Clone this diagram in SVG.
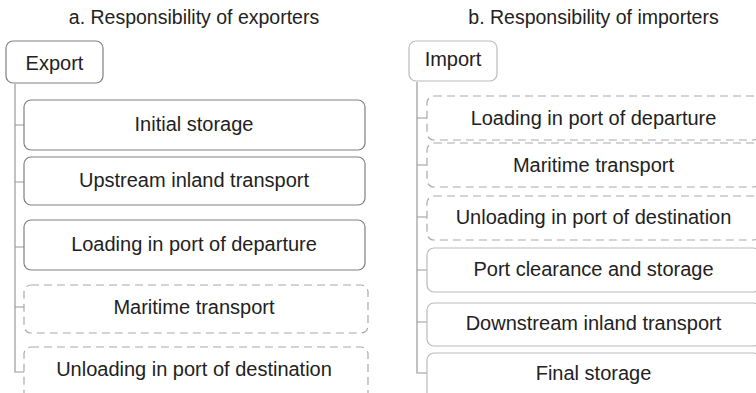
<svg xmlns="http://www.w3.org/2000/svg" width="756" height="393" viewBox="0 0 756 393">
<style>
text{font-family:"Liberation Sans",Arial,sans-serif;fill:#222;text-anchor:middle}
.t{font-size:19.5px}
.n{font-size:20px}
.solid{fill:#fff;stroke:#808080;stroke-width:1.2}
.light{fill:#fff;stroke:#bbb;stroke-width:1.2}
.dash{fill:#fff;stroke:#aaa;stroke-width:1.2;stroke-dasharray:8 5}
.c{fill:none;stroke:#999;stroke-width:1.2}
</style>
<rect width="756" height="393" fill="#fff"/>
<text class="t" x="194" y="24">a. Responsibility of exporters</text>
<text class="t" x="593.5" y="24">b. Responsibility of importers</text>
<g id="connectors">
<path class="c" d="M15 84V372H24M15 125H24M15 182H24M15 247H24M15 307H24"/>
<path class="c" d="M417 82V373H427M417 118H427M417 165H427M417 217H427M417 270H427M417 322H427"/>
</g>
<g id="export"><rect class="solid" x="6" y="41" width="97" height="42" rx="7"/><text class="n" x="54.5" y="70">Export</text></g>
<g id="e1"><rect class="solid" x="24" y="100" width="341" height="50" rx="7"/><text class="n" x="194" y="131">Initial storage</text></g>
<g id="e2"><rect class="solid" x="24" y="157" width="341" height="48" rx="7"/><text class="n" x="194" y="187">Upstream inland transport</text></g>
<g id="e3"><rect class="solid" x="24" y="220" width="341" height="50" rx="7"/><text class="n" x="194" y="251">Loading in port of departure</text></g>
<g id="e4"><rect class="dash" x="24" y="285" width="344" height="48" rx="7"/><text class="n" x="194" y="314">Maritime transport</text></g>
<g id="e5"><rect class="dash" x="24" y="347" width="344" height="60" rx="7"/><text class="n" x="194" y="376">Unloading in port of destination</text></g>
<g id="import"><rect class="light" x="409" y="41" width="88" height="40" rx="7"/><text class="n" x="453" y="66">Import</text></g>
<g id="i1"><rect class="dash" x="427" y="96" width="333" height="44" rx="7"/><text class="n" x="593.5" y="125">Loading in port of departure</text></g>
<g id="i2"><rect class="dash" x="427" y="143" width="333" height="44" rx="7"/><text class="n" x="593.5" y="172">Maritime transport</text></g>
<g id="i3"><rect class="dash" x="427" y="196" width="333" height="44" rx="7"/><text class="n" x="593.5" y="224">Unloading in port of destination</text></g>
<g id="i4"><rect class="light" x="427" y="248" width="333" height="44" rx="7"/><text class="n" x="593.5" y="276">Port clearance and storage</text></g>
<g id="i5"><rect class="light" x="427" y="303" width="333" height="43" rx="7"/><text class="n" x="593.5" y="330">Downstream inland transport</text></g>
<g id="i6"><rect class="light" x="427" y="353" width="333" height="50" rx="7"/><text class="n" x="593.5" y="380">Final storage</text></g>
</svg>
